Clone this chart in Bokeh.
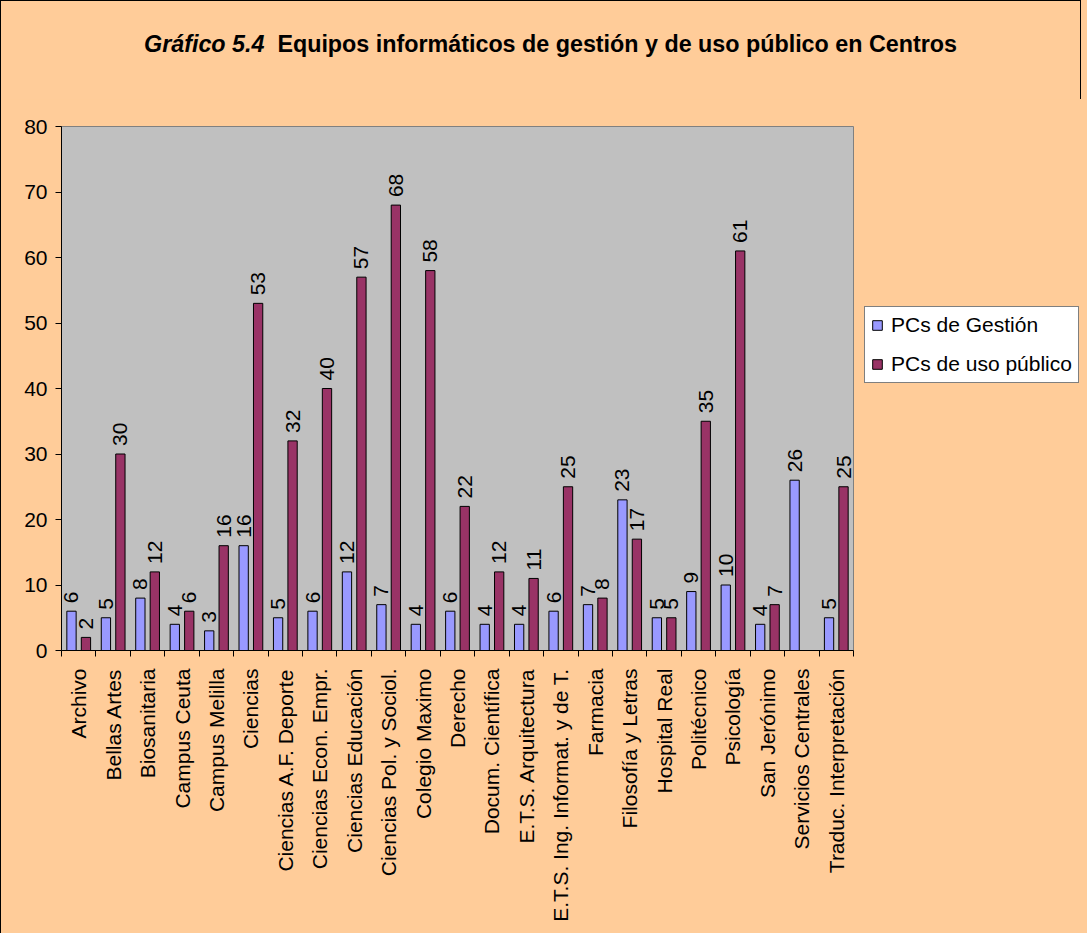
import math
from bokeh.plotting import figure
from bokeh.layouts import column
from bokeh.models import (ColumnDataSource, Range1d, FixedTicker, Legend, LegendItem, Div)
from bokeh.core.properties import value
from bokeh.embed import file_html
from bokeh.resources import INLINE

titulo_num = "Gráfico 5.4"
titulo_txt = "Equipos informáticos de gestión y de uso público en Centros"
centros = ["Archivo", "Bellas Artes", "Biosanitaria", "Campus Ceuta", "Campus Melilla",
           "Ciencias", "Ciencias A.F. Deporte", "Ciencias Econ. Empr.", "Ciencias Educación",
           "Ciencias Pol. y Sociol.", "Colegio Maximo", "Derecho", "Docum. Científica",
           "E.T.S. Arquitectura", "E.T.S. Ing. Informat. y de T.", "Farmacia",
           "Filosofía y Letras", "Hospital Real", "Politécnico", "Psicología",
           "San Jerónimo", "Servicios Centrales", "Traduc. Interpretación"]
pcs_gestion = [6, 5, 8, 4, 3, 16, 5, 6, 12, 7, 4, 6, 4, 4, 6, 7, 23, 5, 9, 10, 4, 26, 5]
pcs_publico = [2, 30, 12, 6, 16, 53, 32, 40, 57, 68, 58, 22, 12, 11, 25, 8, 17, 5, 35, 61, 7, None, 25]
y_ticks = [0, 10, 20, 30, 40, 50, 60, 70, 80]

FONT = "Liberation Sans"
FS = "21px"
BG = "#FFCC99"
C_GES = "#9999FF"
C_PUB = "#993366"
W = 1081

n = len(centros)
centers = [i + 0.5 for i in range(n)]
src_g = ColumnDataSource(dict(x=[c - 0.21 for c in centers], top=pcs_gestion,
                              lab=[str(v) for v in pcs_gestion]))
idx_p = [i for i, v in enumerate(pcs_publico) if v is not None]
src_p = ColumnDataSource(dict(x=[centers[i] + 0.21 for i in idx_p],
                              top=[pcs_publico[i] for i in idx_p],
                              lab=[str(pcs_publico[i]) for i in idx_p]))

title_div = Div(
    text=(f'<div style="width:{W}px; box-sizing:border-box; padding-left:18px; padding-top:27px; '
          f'text-align:center; font-family:\'{FONT}\'; font-size:23.3px; font-weight:bold; '
          f'color:black; white-space:nowrap;"><i>{titulo_num}</i>&nbsp; {titulo_txt}</div>'),
    width=W, height=99, margin=0,
    styles={"background-color": BG, "border-top": "1px solid black",
            "border-left": "1px solid black", "border-right": "1px solid black"})

p = figure(frame_width=790, frame_height=524, output_backend="svg", toolbar_location=None,
           x_range=Range1d(0, n), y_range=Range1d(0, 80), margin=0,
           min_border_left=60, min_border_top=27, min_border_right=231, min_border_bottom=283)
p.styles = {"border-left": "1px solid black", "border-right": "1px solid black"}
p.border_fill_color = BG
p.background_fill_color = "#C0C0C0"
p.outline_line_color = "#808080"
p.outline_line_width = 1
p.xgrid.visible = False
p.ygrid.visible = False

rg = p.vbar(x="x", top="top", width=0.27, source=src_g, fill_color=C_GES,
            line_color="black", line_width=1)
rp = p.vbar(x="x", top="top", width=0.27, source=src_p, fill_color=C_PUB,
            line_color="black", line_width=1)

for s in (src_g, src_p):
    p.text(x="x", y="top", text="lab", source=s, angle=math.pi / 2, text_align="left",
           text_baseline="middle", x_offset=0, y_offset=-8, text_font=value(FONT),
           text_font_size=FS, text_color="black")

# y axis
ya = p.yaxis[0]
ya.ticker = FixedTicker(ticks=y_ticks)
ya.axis_line_color = "black"
ya.major_tick_line_color = "black"
ya.major_tick_out = 6
ya.major_tick_in = 0
ya.minor_tick_line_color = None
ya.major_label_text_font = FONT
ya.major_label_text_font_size = FS
ya.major_label_text_color = "black"
ya.major_label_standoff = 8

# x axis
xa = p.xaxis[0]
xa.ticker = FixedTicker(ticks=centers, minor_ticks=list(range(n + 1)))
xa.major_label_overrides = {c: name for c, name in zip(centers, centros)}
xa.major_label_orientation = math.pi / 2
xa.axis_line_color = "black"
xa.major_tick_line_color = None
xa.minor_tick_line_color = "black"
xa.minor_tick_out = 6
xa.minor_tick_in = 0
xa.major_label_text_font = FONT
xa.major_label_text_font_size = FS
xa.major_label_text_color = "black"
xa.major_label_standoff = 12

legend = Legend(items=[LegendItem(label="PCs de Gestión", renderers=[rg]),
                       LegendItem(label="PCs de uso público", renderers=[rp])],
                location=(11, 267), margin=0, padding=6, spacing=15,
                glyph_width=12, glyph_height=12, label_height=24, label_standoff=8,
                label_text_font=FONT, label_text_font_size=FS, label_text_color="black",
                background_fill_color="white", background_fill_alpha=1,
                border_line_color="black", border_line_width=1)
p.add_layout(legend, "right")

layout = column(title_div, p, spacing=0, styles={"background-color": BG})

open("out.html", "w").write(file_html(layout, INLINE))
